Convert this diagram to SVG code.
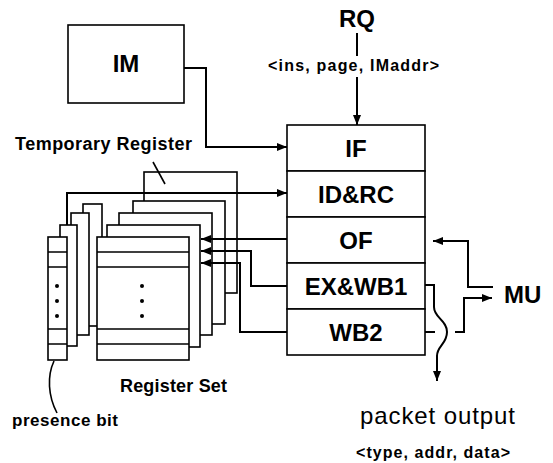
<svg xmlns="http://www.w3.org/2000/svg" width="553" height="463" viewBox="0 0 553 463">
  <style>
    .box { fill: #fff; stroke: #000; stroke-width: 1.6; }
    .ln { fill: none; stroke: #000; stroke-width: 1.6; }
    .wire { fill: none; stroke: #000; stroke-width: 2; }
    .b { font-family: "Liberation Sans", Arial, Helvetica, sans-serif; font-weight: bold; fill: #000; }
    .r { font-family: "Liberation Sans", Arial, Helvetica, sans-serif; fill: #000; }
    .big { font-size: 24px; }
    .mid { font-size: 17px; }
    .sm { font-size: 16px; }
    .dot { fill: #000; }
  </style>
  <defs>
    <marker id="arr" viewBox="0 0 10 8" refX="10" refY="4" markerWidth="10" markerHeight="8" markerUnits="userSpaceOnUse" orient="auto">
      <path d="M0,0 L10,4 L0,8 Z" fill="#000"/>
    </marker>
  </defs>

  <rect width="553" height="463" fill="#fff"/>

  <!-- instruction memory -->
  <g id="im">
    <rect class="box" x="68" y="25" width="116" height="78"/>
    <text class="b big" x="126" y="72" text-anchor="middle">IM</text>
  </g>

  <!-- request input -->
  <g id="rq">
    <text class="b big" x="357" y="27" text-anchor="middle">RQ</text>
    <text class="b sm" x="268" y="71" textLength="171" lengthAdjust="spacing">&lt;ins, page, IMaddr&gt;</text>
  </g>

  <!-- pipeline stages -->
  <g id="pipeline">
    <g id="stage-if">
      <rect class="box" x="287" y="125" width="138" height="46"/>
      <text class="b big" x="356" y="157" text-anchor="middle">IF</text>
    </g>
    <g id="stage-idrc">
      <rect class="box" x="287" y="171" width="138" height="46"/>
      <text class="b big" x="356" y="203" text-anchor="middle">ID&amp;RC</text>
    </g>
    <g id="stage-of">
      <rect class="box" x="287" y="217" width="138" height="46"/>
      <text class="b big" x="356" y="249" text-anchor="middle">OF</text>
    </g>
    <g id="stage-exwb1">
      <rect class="box" x="287" y="263" width="138" height="46"/>
      <text class="b big" x="356" y="295" text-anchor="middle">EX&amp;WB1</text>
    </g>
    <g id="stage-wb2">
      <rect class="box" x="287" y="309" width="138" height="46"/>
      <text class="b big" x="356" y="341" text-anchor="middle">WB2</text>
    </g>
  </g>

  <!-- temporary register (behind the register set) -->
  <g id="temporary-register">
    <rect class="box" x="144" y="172" width="93" height="121"/>
    <text class="b" font-size="18" x="15" y="150" textLength="177" lengthAdjust="spacing">Temporary Register</text>
    <line class="ln" x1="153" y1="162" x2="165" y2="184"/>
  </g>

  <!-- register set: stacked banks, back to front -->
  <g id="register-set">
    <rect class="box" x="133" y="201" width="92" height="123"/>
    <rect class="box" x="119" y="213" width="93" height="122"/>
    <rect class="box" x="107" y="225" width="93" height="122"/>
    <text class="b" font-size="18" x="120" y="392" textLength="107" lengthAdjust="spacing">Register Set</text>
  </g>

  <!-- presence bit columns, back to front -->
  <g id="presence-bits">
    <rect class="box" x="83" y="204" width="19" height="122"/>
    <rect class="box" x="71" y="213" width="18" height="122"/>
    <rect class="box" x="60" y="225" width="17" height="121"/>
    <rect class="box" x="48" y="237" width="19" height="123"/>
    <path class="ln" d="M48,252 H67 M48,267 H67 M48,329 H67 M48,344 H67"/>
    <circle class="dot" cx="57" cy="286" r="2"/>
    <circle class="dot" cx="57" cy="301" r="2"/>
    <circle class="dot" cx="57" cy="316" r="2"/>
    <path class="ln" d="M54,361 C47,376 48,396 57,413"/>
    <text class="b mid" x="12" y="426" textLength="106" lengthAdjust="spacing">presence bit</text>
  </g>

  <!-- front register bank -->
  <g id="register-front">
    <rect class="box" x="97" y="237" width="92" height="123"/>
    <path class="ln" d="M97,252 H189 M97,267 H189 M97,329 H189 M97,344 H189"/>
    <circle class="dot" cx="142" cy="286" r="2"/>
    <circle class="dot" cx="142" cy="301" r="2"/>
    <circle class="dot" cx="142" cy="316" r="2"/>
  </g>

  <!-- memory unit -->
  <g id="mu">
    <text class="b big" x="504" y="303">MU</text>
  </g>

  <!-- packet output -->
  <g id="packet-output">
    <text class="r" x="360" y="424" font-size="24" textLength="155" lengthAdjust="spacing">packet output</text>
    <text class="b sm" x="356" y="458" textLength="154" lengthAdjust="spacing">&lt;type, addr, data&gt;</text>
  </g>

  <!-- connectors -->
  <g id="connectors">
    <!-- RQ into IF -->
    <path class="wire" d="M357,33 V56"/>
    <path class="wire" d="M357,77 V125" marker-end="url(#arr)"/>
    <!-- IM into IF -->
    <path class="wire" d="M184,68 H206 V147 H287" marker-end="url(#arr)"/>
    <!-- presence bits / register set into ID&RC -->
    <path class="wire" d="M67,225 V193 H287" marker-end="url(#arr)"/>
    <!-- stage outputs back into the register set -->
    <path class="wire" d="M287,239 H201" marker-end="url(#arr)"/>
    <path class="wire" d="M287,286 H251 V251 H201" marker-end="url(#arr)"/>
    <path class="wire" d="M287,332 H240 V263 H201" marker-end="url(#arr)"/>
    <!-- MU into OF -->
    <path class="wire" d="M493,287 H468 V241 H433" marker-end="url(#arr)"/>
    <!-- WB2 to MU, hopping over the packet line -->
    <path class="wire" d="M425,332 H435"/>
    <path class="wire" d="M455,332 H464 V298 H492" marker-end="url(#arr)"/>
    <!-- EX&WB1 packet output -->
    <path class="wire" d="M425,285 H434 V307 C434,318 447,320 447,332 C447,344 437,346 437,356 V381" marker-end="url(#arr)"/>
  </g>
</svg>
